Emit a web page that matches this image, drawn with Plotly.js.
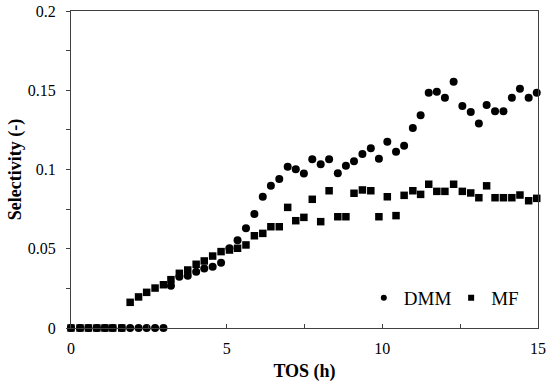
<!DOCTYPE html>
<html>
<head>
<meta charset="utf-8">
<script src="https://cdn.plot.ly/plotly-3.0.1.min.js"></script>
<style>html,body{margin:0;padding:0;background:#fff;}#chart{width:550px;height:384px;}</style>
</head>
<body>
<div id="chart"></div>
<script>
// Time on stream (h)
const tos = [0, 0.29, 0.56, 0.83, 1.09, 1.34, 1.63, 1.90, 2.17, 2.43, 2.70, 2.97,
  3.21, 3.48, 3.75, 4.02, 4.28, 4.55, 4.82, 5.09, 5.35, 5.62, 5.89, 6.16, 6.42, 6.69,
  6.96, 7.22, 7.48, 7.75, 8.02, 8.29, 8.57, 8.83, 9.09, 9.36, 9.63, 9.89, 10.16, 10.44,
  10.70, 10.98, 11.23, 11.49, 11.75, 12.01, 12.29, 12.57, 12.84, 13.10, 13.35, 13.62,
  13.89, 14.16, 14.42, 14.70, 14.96];
// Selectivity to DMM (-)
const dmm = [0, 0, 0, 0, 0, 0, 0, 0, 0, 0, 0, 0,
  0.0267, 0.0324, 0.0330, 0.0355, 0.0376, 0.0387, 0.0412, 0.0503, 0.0553, 0.0629, 0.0719,
  0.0828, 0.0898, 0.0940, 0.1018, 0.1001, 0.0974, 0.1064, 0.1033, 0.1064, 0.0976, 0.1024,
  0.1052, 0.1098, 0.1134, 0.1068, 0.1175, 0.1112, 0.1150, 0.1262, 0.1342, 0.1485, 0.1491,
  0.1453, 0.1554, 0.1401, 0.1363, 0.1291, 0.1407, 0.1367, 0.1367, 0.1453, 0.1510, 0.1453,
  0.1485];
// Selectivity to MF (-)
const mf = [0, 0, 0, 0, 0, 0, 0, 0.0162, 0.0196, 0.0225, 0.0252, 0.0273,
  0.0305, 0.0345, 0.0366, 0.0402, 0.0423, 0.0454, 0.0482, 0.0492, 0.0503, 0.0524, 0.0582,
  0.0597, 0.0639, 0.0639, 0.0761, 0.0677, 0.0698, 0.0812, 0.0671, 0.0866, 0.0702, 0.0702,
  0.0850, 0.0871, 0.0866, 0.0702, 0.0828, 0.0709, 0.0837, 0.0866, 0.0843, 0.0907, 0.0862,
  0.0862, 0.0907, 0.0862, 0.0852, 0.0822, 0.0897, 0.0822, 0.0822, 0.0822, 0.0839, 0.0803,
  0.0818];
const seriesNames = ["DMM", "MF"];
const xTitle = "TOS (h)";
const yTitle = "Selectivity (-)";

const serif = "'Liberation Serif', 'Times New Roman', serif";

const traces = [
  {x: tos, y: dmm, type: "scatter", mode: "markers", name: seriesNames[0], showlegend: false,
   marker: {symbol: "circle", size: 8, color: "#000"}, cliponaxis: false},
  {x: tos, y: mf, type: "scatter", mode: "markers", name: seriesNames[1], showlegend: false,
   marker: {symbol: "square", size: 7.5, color: "#000"}, cliponaxis: false},
  // legend entries only (no data drawn)
  {x: [null], y: [null], type: "scatter", mode: "markers", name: seriesNames[0], legend: "legend",
   marker: {symbol: "circle", size: 6, color: "#000"}},
  {x: [null], y: [null], type: "scatter", mode: "markers", name: seriesNames[1], legend: "legend2",
   marker: {symbol: "square", size: 6, color: "#000"}}
];

const legendBase = {
  font: {family: serif, size: 19, color: "#000"},
  bgcolor: "rgba(0,0,0,0)", borderwidth: 0,
  yanchor: "middle", xanchor: "left", y: 0.0946
};

const layout = {
  width: 550, height: 384,
  margin: {l: 71, r: 12, t: 11, b: 56},
  paper_bgcolor: "#fff", plot_bgcolor: "#fff",
  font: {family: serif, size: 16, color: "#000"},
  xaxis: {
    range: [0, 15], dtick: 5, tick0: 0, ticks: "inside", ticklen: 4, tickcolor: "#404040",
    showline: true, linecolor: "#404040", linewidth: 1, mirror: true,
    showgrid: false, zeroline: false, ticklabelstandoff: 6,
    minor: {dtick: 2.5, tick0: 0, ticks: "inside", ticklen: 4, tickcolor: "#404040", showgrid: false},
    tickfont: {family: serif, size: 16, color: "#000"},
    title: {text: xTitle, font: {family: serif, size: 18, color: "#000", weight: "bold"}, standoff: 8},
    automargin: false
  },
  yaxis: {
    range: [0, 0.2], dtick: 0.05, tick0: 0, ticks: "outside", ticklen: 4, tickcolor: "#404040",
    showline: true, linecolor: "#404040", linewidth: 1, mirror: true,
    showgrid: false, zeroline: false, ticklabelstandoff: 7,
    minor: {dtick: 0.025, tick0: 0, ticks: "outside", ticklen: 4, tickcolor: "#404040", showgrid: false},
    tickfont: {family: serif, size: 16, color: "#000"},
    title: {text: yTitle, font: {family: serif, size: 18, color: "#000", weight: "bold"}, standoff: 1},
    automargin: false
  },
  legend: Object.assign({}, legendBase, {x: 0.627}),
  legend2: Object.assign({}, legendBase, {x: 0.814}),
  showlegend: true
};

Plotly.newPlot("chart", traces, layout, {staticPlot: true, displayModeBar: false});
</script>
</body>
</html>
